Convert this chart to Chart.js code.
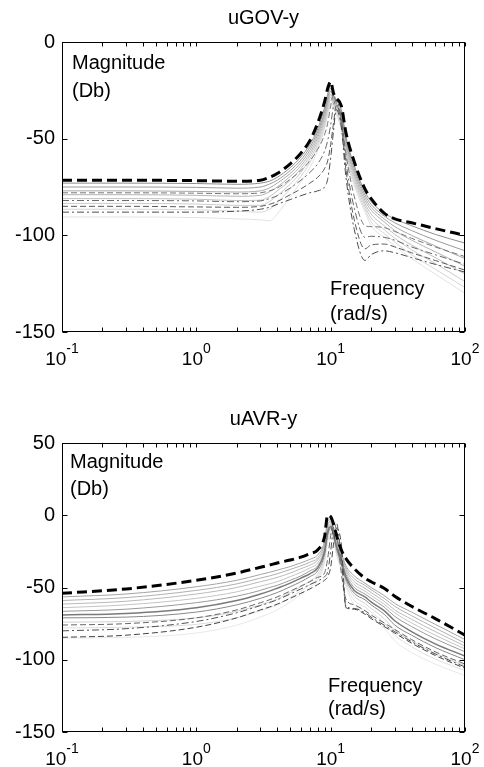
<!DOCTYPE html>
<html>
<head>
<meta charset="utf-8">
<script src="https://cdn.jsdelivr.net/npm/chart.js@4.4.1/dist/chart.umd.min.js"></script>
<style>
html,body{margin:0;padding:0;background:#fff;width:484px;height:767px;overflow:hidden;}
#c1{position:absolute;left:0;top:0;}
#c2{position:absolute;left:0;top:380px;}
</style>
</head>
<body>
<canvas id="c1" width="484" height="380"></canvas>
<canvas id="c2" width="484" height="387"></canvas>
<script>
// ---------- data ----------
const freq = [0.1, 0.3, 1, 2, 3, 3.5, 4, 5, 6, 7, 8, 9, 9.5, 10, 10.5, 11, 12, 13, 15, 18, 20, 25, 30, 40, 60, 100];
const xTickExponents = [-1, 0, 1, 2];
const govYTicks = [-150, -100, -50, 0];
const avrYTicks = [-150, -100, -50, 0, 50];

// uGOV-y
const govEnvelope = [-71.5, -71.5, -71.7, -72, -71.5, -70, -68, -63, -57.5, -51, -42, -31, -24, -20.5, -26.5, -29, -33, -47, -62, -76, -81, -88.5, -91.5, -93.5, -96.5, -100];
const gov1 = [-73, -73, -73.2, -73.6, -73, -72, -70, -65, -59.5, -53, -45, -34, -27, -22.5, -27.5, -30.5, -35, -49, -64, -77.5, -82.5, -88.5, -91.5, -95, -99.5, -104];
const gov2 = [-75, -75, -75.2, -75.6, -75, -73.5, -71.5, -66.5, -61, -54.5, -46.5, -36, -29, -24, -28.5, -31.5, -36.5, -50.5, -65.5, -79, -84, -90, -93.5, -97.5, -102.5, -108];
const gov3 = [-77, -77, -77.3, -77.6, -77, -75.5, -73, -68, -62.5, -56, -48, -37.5, -30.5, -25.5, -29.5, -32.5, -38, -52, -67, -80.5, -85.5, -91.5, -95.5, -100, -105.5, -112];
const gov4 = [-79, -79, -79.3, -79.8, -79.3, -77.5, -75, -69.5, -64, -57.5, -49.5, -39, -32, -27, -30.5, -33.5, -39.5, -53.5, -68.5, -82, -87, -93, -97.5, -102.5, -108.5, -116];
const gov5 = [-81, -81, -81.3, -82, -81.8, -80, -77, -71.5, -65.5, -59, -51, -40.5, -33.5, -28.5, -31.5, -34.5, -41, -55, -70, -83.5, -89, -95, -99.5, -105, -111.5, -120];
const gov6 = [-83.5, -83.5, -83.8, -84.5, -84.5, -82.5, -79.5, -73.5, -67.5, -60.5, -52.5, -42, -35, -30, -32.5, -35.5, -42.5, -56.5, -71.5, -85, -91, -97, -101.5, -107.5, -114.5, -124];
const gov7 = [-86.5, -86.5, -86.8, -87.5, -88, -86.5, -83, -76, -69.5, -62.5, -54, -43.5, -36.5, -31.5, -33.5, -36.5, -44, -58, -73, -86.5, -93, -99, -103.5, -110, -117.5, -127];
const gov8 = [-90.5, -90.5, -90.8, -91.5, -92, -92.5, -89, -80, -72.5, -65, -56, -45, -38, -33, -34.5, -37.5, -45.5, -59.5, -74.5, -88, -95, -101, -105.5, -112, -120, -130];
const govN1 = [-78, -78, -78.2, -78.5, -78, -77, -75.5, -71, -66.5, -61.5, -55.5, -48, -42, -33, -27, -31, -40, -58, -80, -95, -95.5, -96, -98, -101.5, -106, -111];
const govN2 = [-82, -82, -82.2, -82.6, -82.2, -81, -79.5, -75.5, -71.5, -67.5, -63, -56.5, -51, -43, -33, -30, -40, -62, -86, -101, -100.5, -101, -102.5, -106, -110, -115];
const govN3 = [-85, -85, -85.3, -85.5, -85, -84, -82.5, -79, -76, -73, -70, -65.5, -61.5, -53, -42, -33, -42, -66, -92, -107, -105, -104.5, -106, -109, -113, -118];
const govN4 = [-88, -88, -88, -87.5, -86.5, -85.5, -84, -81.5, -79.5, -78, -77, -75, -71, -60, -46, -35, -44, -70, -97, -113, -110, -108, -109, -111.5, -115, -119];

// uAVR-y
const avrEnvelope = [-54, -51, -45, -40, -36, -34.5, -33, -31, -29, -26.5, -24, -15, 0, -1, -6, -13, -24, -30, -37, -43.5, -46, -50.5, -56, -63, -71.5, -83];
const avr1 = [-56.5, -54.5, -49.5, -45, -41, -39.5, -38, -35.5, -33, -30.5, -27.5, -18, -4, -3, -8, -15, -26, -35, -42, -47, -50, -55.5, -61, -67, -75.5, -86];
const avr2 = [-59, -57, -52, -47.5, -43.5, -42, -40.5, -37.5, -35, -32.5, -29.5, -19.5, -6, -4, -9, -16, -27, -36.5, -44, -48.5, -51.5, -57.5, -63, -69.5, -78, -88.5];
const avr3 = [-61.5, -59.5, -54.5, -50, -46, -44.5, -43, -40, -37, -34.5, -31, -21, -7.5, -5, -10, -17, -28.5, -38, -46, -50.5, -53.5, -59.5, -65.5, -72, -80.5, -90.5];
const avr4 = [-64, -62, -57.5, -53, -49, -47.5, -46, -42.5, -39.5, -36.5, -33, -22.5, -9, -6, -11, -18.5, -30, -39.5, -48, -52.5, -55.5, -61.5, -67.5, -74.5, -83, -92.5];
const avr5 = [-66.5, -65, -60.5, -56, -52, -50, -48.5, -45, -42, -38.5, -35, -24, -10.5, -7, -12, -20, -31, -41, -50, -54.5, -57.5, -63.5, -70, -77, -85.5, -94.5];
const avr6 = [-69, -68, -64, -59, -54.5, -52.5, -50.5, -47, -43.5, -40.5, -36.5, -25.5, -12, -8, -13, -21, -32, -43, -52, -56.5, -60, -66, -73, -80.5, -89, -97.5];
const avr7 = [-71, -70.5, -67, -62, -57.5, -55.5, -53.5, -49.5, -46, -42.5, -38.5, -27, -13.5, -9, -14, -22.5, -33.5, -44.5, -54, -58.5, -62, -68.5, -76, -83, -91.5, -100];
const avr8 = [-74, -73.5, -71, -66.5, -62, -60, -58, -53.5, -49.5, -45.5, -41, -29, -15, -10, -15, -24, -35, -46, -56, -61, -64.5, -71.5, -79.5, -87, -95.5, -104];
const avr9 = [-78, -77.5, -75.5, -71, -66, -64, -62, -57, -52.5, -48, -43, -31, -17, -11.5, -16, -25.5, -36.5, -48, -59, -63.5, -67, -74.5, -83, -91, -99.5, -107.5];
const avr10 = [-85, -84.5, -81.5, -76, -70.5, -68, -65.5, -60, -55, -50, -45, -33, -19, -13, -17, -27, -38, -50, -62, -66, -70, -78, -87, -95, -103, -111];
const avrN1 = [-76, -75, -71, -65.5, -60.5, -58.5, -56.5, -52.5, -49, -46, -43, -40, -30, -14, -5, -10, -40, -58, -62, -66, -69, -74.5, -79, -86, -94.5, -103];
const avrN2 = [-80, -78.5, -73.5, -67.5, -62.5, -60.5, -58.5, -54.5, -51, -48, -45.5, -42.5, -39, -25, -8, -5, -30, -63, -64.5, -67.5, -70.5, -76, -80.5, -87.5, -96, -105];
const avrN3 = [-84.5, -83, -77.5, -71, -65.5, -63.5, -61.5, -57.5, -54, -51, -48, -45, -42.5, -36, -20, -9, -20, -64, -65, -68.5, -71.5, -77, -81.5, -88.5, -97, -106];

// ---------- styles ----------
const FONT = "'Liberation Sans', Arial, Helvetica, sans-serif";
const envStyle = { c: '#000000', w: 3, d: [10, 5] };
const dashA = [6, 3], dashDot = [7, 3, 2, 3];

const govSeries = [
  [govEnvelope, envStyle],
  [govN4, { c: '#4c4c4c', d: dashDot }],
  [govN3, { c: '#5a5a5a', d: dashA }],
  [govN2, { c: '#666666', d: dashDot }],
  [govN1, { c: '#777777', d: dashA }],
  [gov1, { c: '#8c8c8c' }],
  [gov2, { c: '#9a9a9a' }],
  [gov3, { c: '#a8a8a8' }],
  [gov4, { c: '#b4b4b4' }],
  [gov5, { c: '#c0c0c0' }],
  [gov6, { c: '#cbcbcb' }],
  [gov7, { c: '#d6d6d6' }],
  [gov8, { c: '#e2e2e2' }]
];
const avrSeries = [
  [avrEnvelope, envStyle],
  [avrN3, { c: '#444444', d: dashA }],
  [avrN2, { c: '#505050', d: dashDot }],
  [avrN1, { c: '#666666', d: dashA }],
  [avr6, { c: '#7a7a7a', w: 1.5 }],
  [avr7, { c: '#888888' }],
  [avr5, { c: '#9a9a9a' }],
  [avr1, { c: '#a4a4a4' }],
  [avr2, { c: '#b0b0b0' }],
  [avr3, { c: '#bababa' }],
  [avr4, { c: '#c4c4c4' }],
  [avr8, { c: '#d2d2d2' }],
  [avr9, { c: '#dedede' }],
  [avr10, { c: '#e8e8e8' }]
];

function makeDatasets(list) {
  return list.map(([vals, st], i) => ({
    data: freq.map((f, k) => ({ x: f, y: vals[k] })),
    borderColor: st.c,
    borderWidth: st.w || 1,
    borderDash: st.d || [],
    pointRadius: 0,
    fill: false,
    cubicInterpolationMode: 'monotone',
    order: i
  }));
}

// ---------- frame / ticks / annotations plugin ----------
const framePlugin = {
  id: 'frame',
  afterDraw(chart, args, opts) {
    const { ctx, chartArea: a, scales: { x, y } } = chart;
    ctx.save();
    ctx.strokeStyle = '#000';
    ctx.lineWidth = 1;
    const L = Math.round(a.left) + 0.5, R = Math.round(a.right) - 0.5;
    const T = Math.round(a.top) + 0.5, B = Math.round(a.bottom) - 0.5;
    ctx.strokeRect(L, T, R - L, B - T);
    ctx.beginPath();
    y.ticks.forEach(t => {
      const py = Math.round(y.getPixelForValue(t.value)) + 0.5;
      ctx.moveTo(L, py); ctx.lineTo(L + 5, py);
      ctx.moveTo(R, py); ctx.lineTo(R - 5, py);
    });
    xTickExponents.forEach(e => {
      for (let m = 1; m <= 9; m++) {
        const v = m * Math.pow(10, e);
        if (v < x.min * 0.999 || v > x.max * 1.001) continue;
        const px = Math.round(x.getPixelForValue(v)) + 0.5;
        ctx.moveTo(px, B); ctx.lineTo(px, B - 4);
        ctx.moveTo(px, T); ctx.lineTo(px, T + 4);
      }
    });
    ctx.stroke();

    // x tick labels 10^e
    ctx.fillStyle = '#000';
    ctx.textBaseline = 'alphabetic';
    ctx.textAlign = 'left';
    xTickExponents.forEach(e => {
      const px = x.getPixelForValue(Math.pow(10, e));
      const base = '10', sup = String(e);
      ctx.font = '19px ' + FONT;
      const w1 = ctx.measureText(base).width;
      ctx.font = '14px ' + FONT;
      const w2 = ctx.measureText(sup).width;
      const x0 = px - (w1 + w2) / 2;
      ctx.font = '19px ' + FONT;
      ctx.fillText(base, x0, B + 33);
      ctx.font = '14px ' + FONT;
      ctx.fillText(sup, x0 + w1, B + 21);
    });

    // in-plot text
    ctx.font = '20px ' + FONT;
    (opts.notes || []).forEach(n => {
      ctx.fillText(n.text, x.getPixelForValue(n.x), y.getPixelForValue(n.y));
    });
    ctx.restore();
  }
};

function makeChart(id, title, series, yTicks, titlePad, xHeight, notes) {
  return new Chart(document.getElementById(id), {
    type: 'line',
    data: { datasets: makeDatasets(series) },
    plugins: [framePlugin],
    options: {
      responsive: false,
      animation: false,
      devicePixelRatio: 1,
      layout: { padding: { left: 0, right: 19, top: 0, bottom: 0 } },
      scales: {
        x: {
          type: 'logarithmic',
          min: Math.pow(10, xTickExponents[0]),
          max: Math.pow(10, xTickExponents[xTickExponents.length - 1]),
          grid: { display: false, drawTicks: false },
          border: { display: false },
          ticks: { display: false },
          afterFit(s) { s.height = xHeight; }
        },
        y: {
          min: yTicks[0],
          max: yTicks[yTicks.length - 1],
          grid: { display: false, drawTicks: false },
          border: { display: false },
          ticks: { color: '#000', padding: 7, font: { family: FONT, size: 20 } },
          afterBuildTicks(s) { s.ticks = yTicks.map(v => ({ value: v })); },
          afterFit(s) { s.width = 62; }
        }
      },
      plugins: {
        legend: { display: false },
        tooltip: { enabled: false },
        title: {
          display: true,
          text: title,
          color: '#000',
          fullSize: false,
          font: { family: FONT, size: 20, weight: 'normal' },
          padding: titlePad
        },
        frame: { notes }
      }
    }
  });
}

makeChart('c1', 'uGOV-y', govSeries, govYTicks, { top: 6.5, bottom: 11.5 }, 48, [
  { text: 'Magnitude', x: 0.1187, y: -13.8 },
  { text: '(Db)', x: 0.1187, y: -28.5 },
  { text: 'Frequency', x: 9.9, y: -130.9 },
  { text: '(rad/s)', x: 9.9, y: -143.8 }
]);
makeChart('c2', 'uAVR-y', avrSeries, avrYTicks, { top: 27, bottom: 12 }, 35, [
  { text: 'Magnitude', x: 0.1147, y: 33 },
  { text: '(Db)', x: 0.1147, y: 13.8 },
  { text: 'Frequency', x: 9.56, y: -122.3 },
  { text: '(rad/s)', x: 9.56, y: -138.4 }
]);
</script>
</body>
</html>
